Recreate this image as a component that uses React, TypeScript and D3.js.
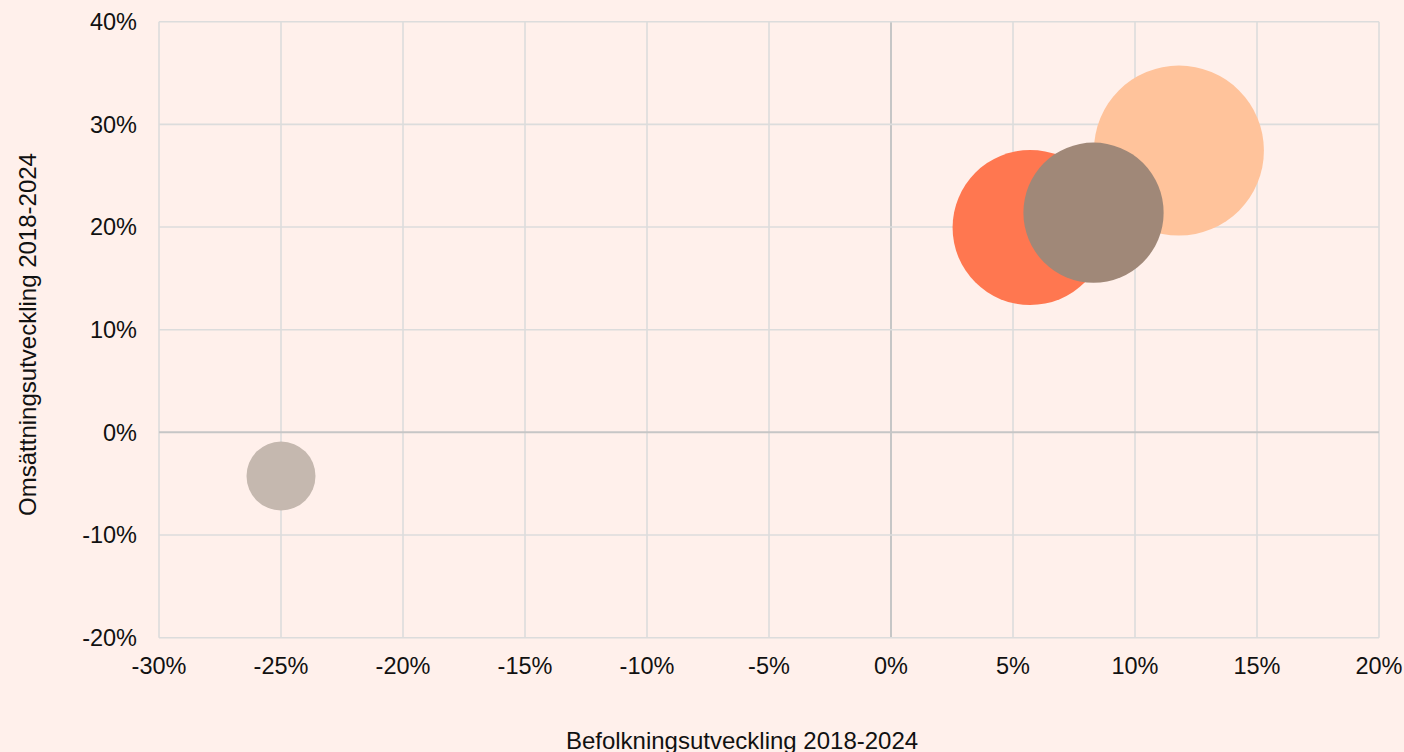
import React from "react";
import * as d3 from "d3";

const names = ["A", "B", "C", "D"];
const befolkning = [-25.0, 5.7, 11.8, 8.3];
const omsattning = [-4.25, 19.95, 27.45, 21.4];
const sizes = [11.9, 60.1, 72.3, 49.2];
const colors = ["#C5B8AF", "#FF7750", "#FFC39B", "#A08878"];
const xTicks = [-30, -25, -20, -15, -10, -5, 0, 5, 10, 15, 20];
const yTicks = [-20, -10, 0, 10, 20, 30, 40];
const xTitle = "Befolkningsutveckling 2018-2024";
const yTitle = "Omsättningsutveckling 2018-2024";

const W = 1404;
const H = 752;

export default function App() {
  const x = d3.scaleLinear().domain([-30, 20]).range([159, 1379]);
  const y = d3.scaleLinear().domain([-20, 40]).range([637.7, 21.7]);
  const r = d3.scaleSqrt().domain([0, d3.max(sizes) as number]).range([0, 85]);
  const order = [0, 1, 2, 3];
  const font = "'Liberation Sans', Arial, sans-serif";
  return (
    <div style={{ position: "fixed", left: 0, top: 0, width: W, height: H, background: "#FFF0EB" }}>
      <svg width={W} height={H} style={{ display: "block" }} fontFamily={font}>
        <rect x={0} y={0} width={W} height={H} fill="#FFF0EB" />
        {xTicks.map((t) => (
          <line key={"gx" + t} x1={x(t)} x2={x(t)} y1={y(40)} y2={y(-20)}
            stroke={t === 0 ? "#C6C6C6" : "#DCDCDC"} strokeWidth={t === 0 ? 2 : 1.6} />
        ))}
        {yTicks.map((t) => (
          <line key={"gy" + t} x1={x(-30)} x2={x(20)} y1={y(t)} y2={y(t)}
            stroke={t === 0 ? "#C6C6C6" : "#DCDCDC"} strokeWidth={t === 0 ? 2 : 1.6} />
        ))}
        {order.map((i) => (
          <circle key={names[i]} cx={x(befolkning[i])} cy={y(omsattning[i])} r={r(sizes[i])} fill={colors[i]} />
        ))}
        {yTicks.map((t) => (
          <text key={"ty" + t} x={137} y={y(t)} dy="0.36em" textAnchor="end" fontSize={23.5} fill="#111">
            {t + "%"}
          </text>
        ))}
        {xTicks.map((t) => (
          <text key={"tx" + t} x={x(t)} y={673.5} textAnchor="middle" fontSize={23.5} fill="#111">
            {t + "%"}
          </text>
        ))}
        <text x={742} y={748.5} textAnchor="middle" fontSize={24} fill="#111">{xTitle}</text>
        <text transform={`translate(36,334.5) rotate(-90)`} textAnchor="middle" fontSize={24} fill="#111">{yTitle}</text>
      </svg>
    </div>
  );
}
